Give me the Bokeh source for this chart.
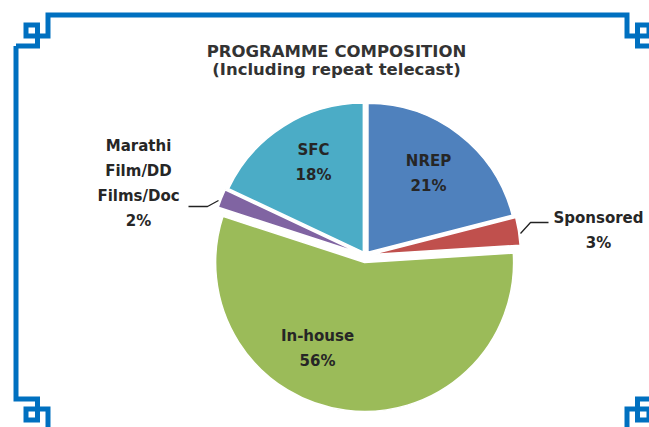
import math
from bokeh.plotting import figure
from bokeh.models import Range1d, ColumnDataSource
from bokeh.core.properties import value
from bokeh.embed import file_html
from bokeh.resources import INLINE

# ---------------- data ----------------
categories = ["NREP", "Sponsored", "In-house", "Marathi Film/DD Films/Doc", "SFC"]
shares = [21, 3, 56, 2, 18]
label_names = [["NREP"], ["Sponsored"], ["In-house"], ["Marathi", "Film/DD", "Films/Doc"], ["SFC"]]
title_lines = ["PROGRAMME COMPOSITION", "(Including repeat telecast)"]

# ---------------- styles / layout ----------------
colors = ["#4F81BD", "#C0504D", "#9BBB59", "#8064A2", "#4BACC6"]
explode = [4, 6, 7, 6, 4]           # px offset of each slice
label_pos = [(428, 160), (598, 217), (317, 335), (138, 145), (313, 149)]  # first line centre (image px)
line_gap = 25
center = (365, 255)
radius = 149
border_color = "#0070C0"
font = value("DejaVu Sans")

W, H = 649, 427
p = figure(width=W, height=H, x_range=Range1d(0, W), y_range=Range1d(-H, 0),
           output_backend="svg", toolbar_location=None,
           x_axis_location=None, y_axis_location=None, min_border=0)
p.grid.visible = False
p.outline_line_color = None
p.background_fill_color = "white"

# ---------------- pie ----------------
total = float(sum(shares))
xs, ys, starts, ends = [], [], [], []
acc = 0.0
for v, e in zip(shares, explode):
    a = acc / total * 360.0
    b = (acc + v) / total * 360.0
    acc += v
    mid = math.radians((a + b) / 2.0)
    xs.append(center[0] + e * math.sin(mid))
    ys.append(-center[1] + e * math.cos(mid))
    starts.append(math.radians(90 - b))
    ends.append(math.radians(90 - a))

src = ColumnDataSource(dict(x=xs, y=ys, start=starts, end=ends, color=colors, cat=categories))
p.wedge(x="x", y="y", radius=radius, start_angle="start", end_angle="end",
        direction="anticlock", fill_color="color", line_color="white", line_width=1.5, source=src)

# ---------------- labels ----------------
tx, ty, tt = [], [], []
for names, v, (lx, ly) in zip(label_names, shares, label_pos):
    lines = names + [f"{v}%"]
    for i, t in enumerate(lines):
        tx.append(lx)
        ty.append(-(ly + i * line_gap))
        tt.append(t)
p.text(x="x", y="y", text="t", source=ColumnDataSource(dict(x=tx, y=ty, t=tt)),
       text_font=font, text_font_size="15px", text_font_style="bold",
       text_color="#262626", text_align="center", text_baseline="middle")

# leader lines
p.line(x=[548, 530, 520], y=[-222, -222, -233], line_color="#222222", line_width=1.3)
p.line(x=[188, 207, 218], y=[-206, -206, -200], line_color="#222222", line_width=1.3)

# ---------------- title ----------------
p.text(x=[336, 336], y=[-51, -69], text=title_lines,
       text_font=font, text_font_size="16.5px", text_font_style="bold",
       text_color="#333333", text_align="center", text_baseline="middle")

# ---------------- decorative border (one continuous path) ----------------
tl = [(15.5, 45.5), (37, 45.5), (37, 24.5), (25.5, 24.5), (25.5, 35.5),
      (47.5, 35.5), (47.5, 14.5)]
tr = [(674 - x, y) for x, y in reversed(tl)]
br = [(x, 444 - y) for x, y in reversed(tr)]
bl = [(x, 444 - y) for x, y in reversed(tl)]
path = tl + tr + br + bl + [tl[0]]
p.line(x=[pt[0] for pt in path], y=[-pt[1] for pt in path],
       line_color=border_color, line_width=5, line_join="miter")

open("out.html", "w").write(file_html(p, INLINE))
